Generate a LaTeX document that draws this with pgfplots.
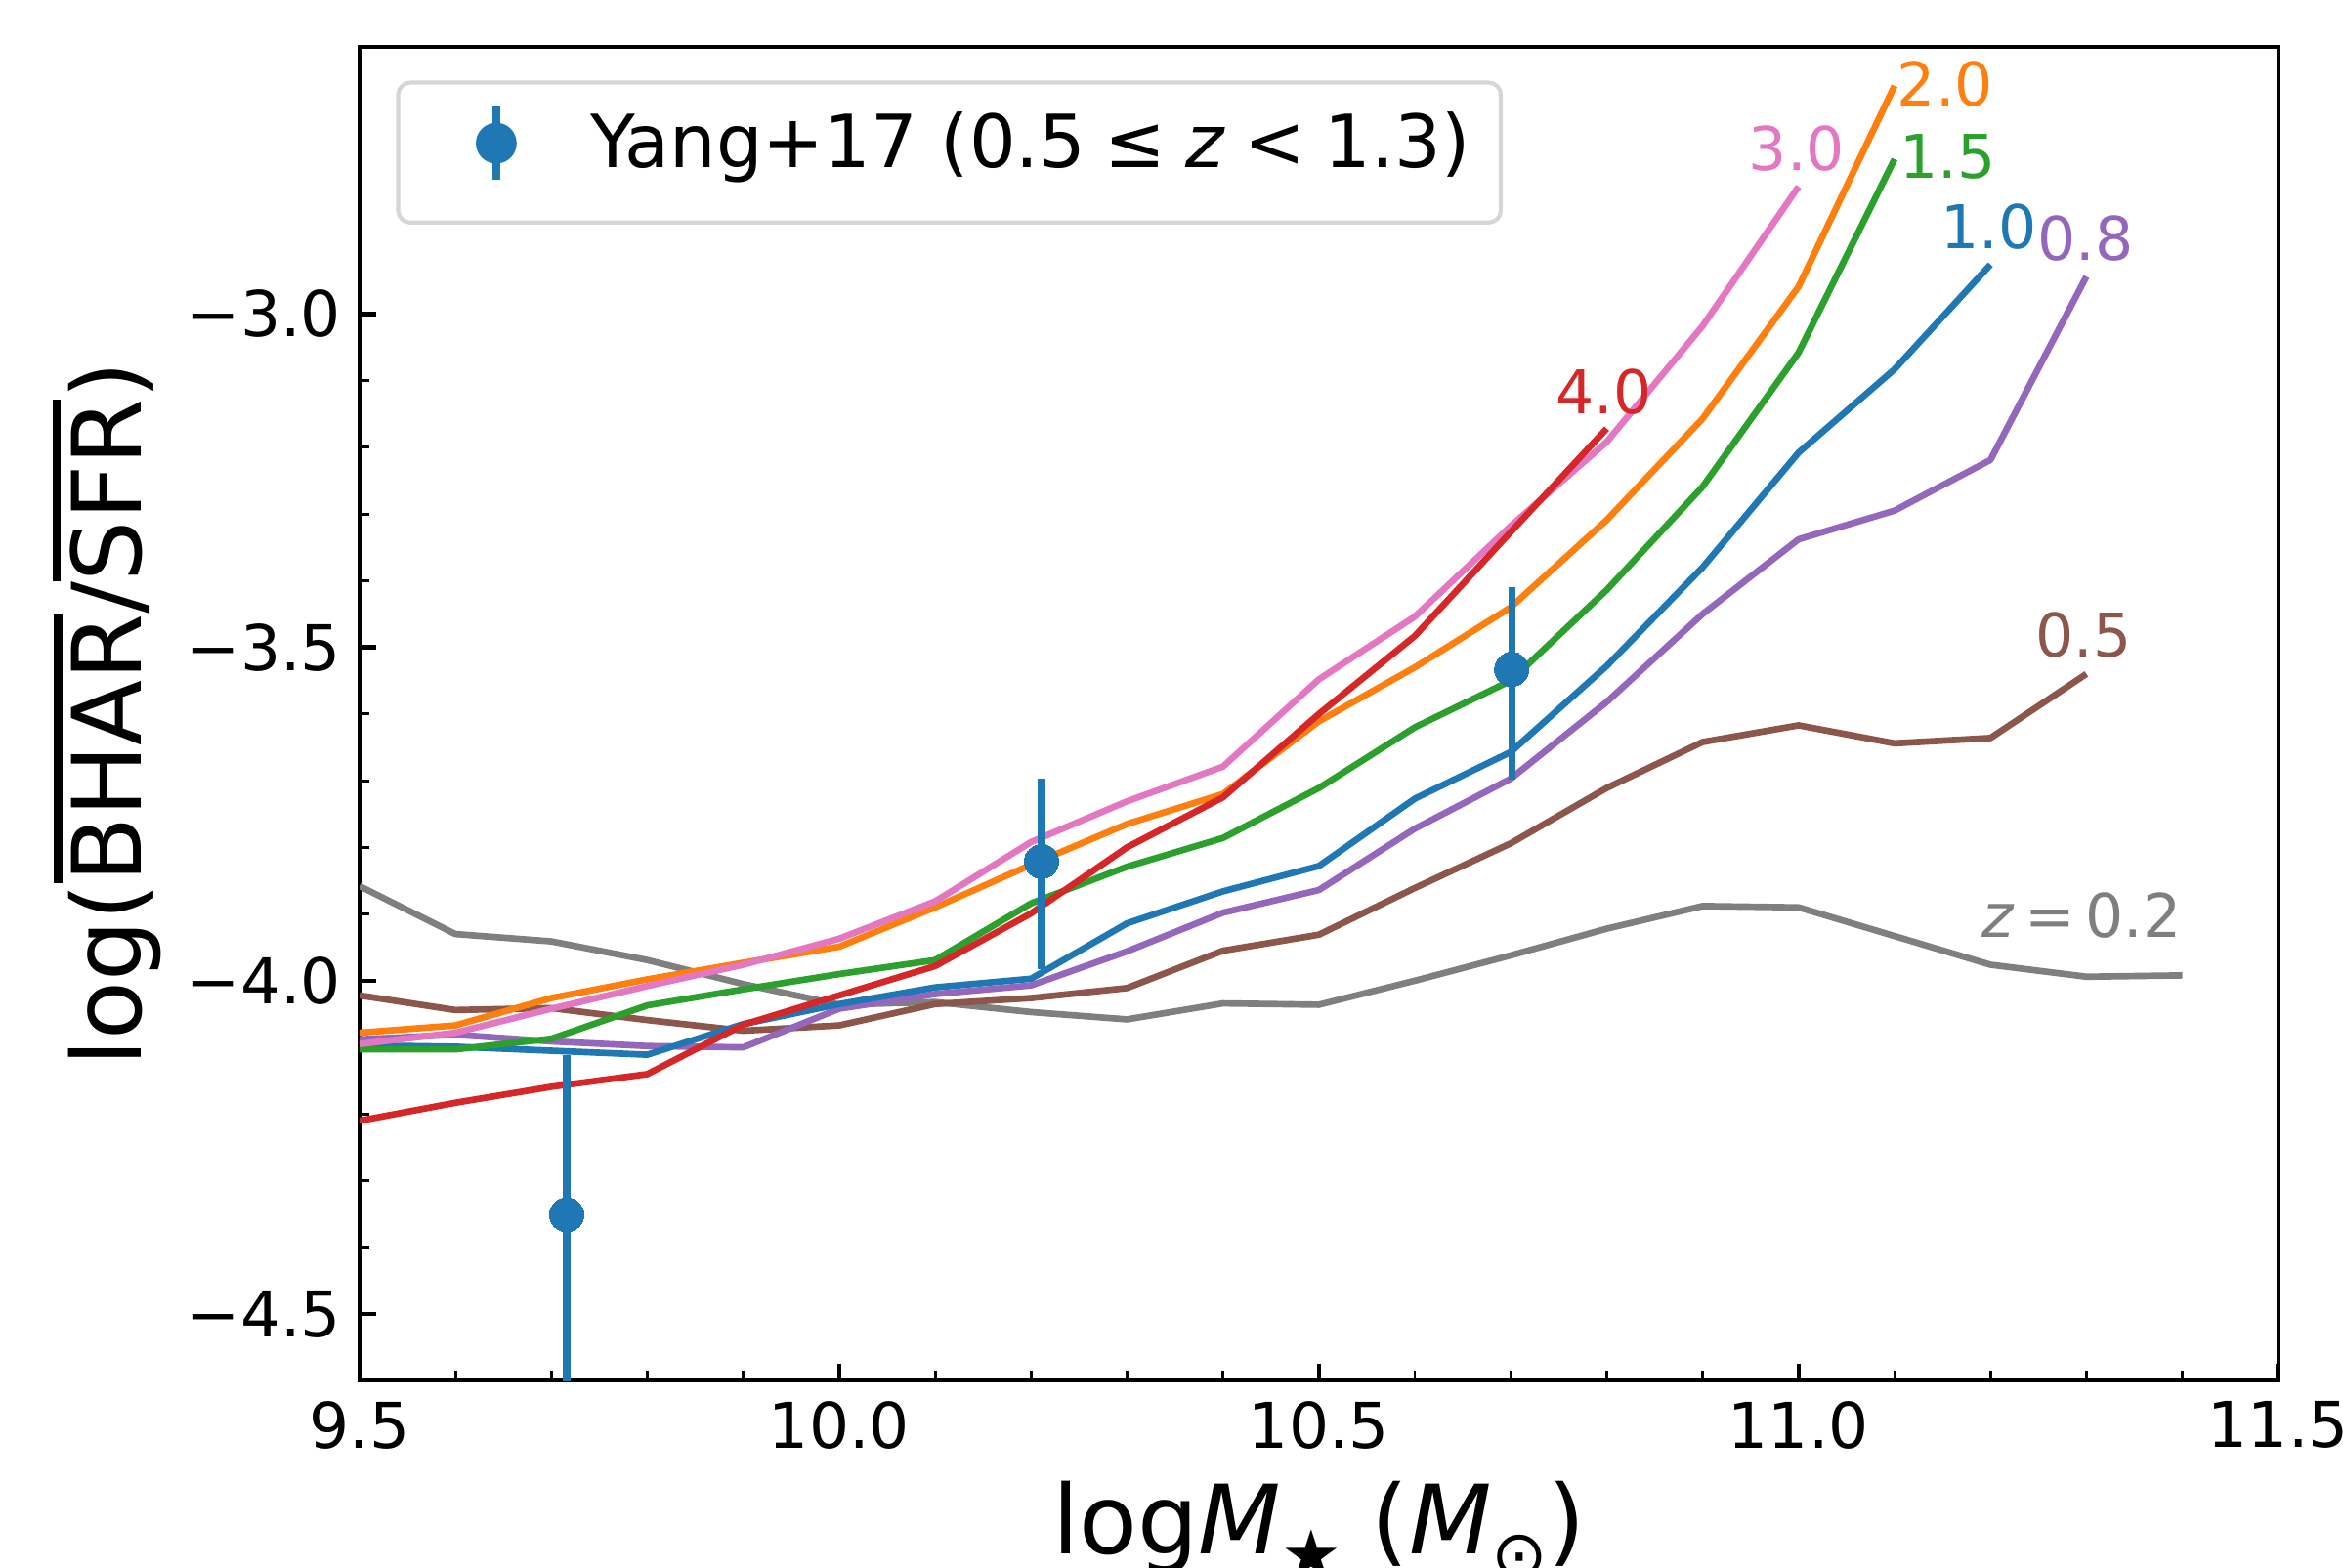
\documentclass[border=0pt]{standalone}
\usepackage{pgfplots}
\pgfplotsset{compat=1.18}
\usepackage{pgfplotstable}
\usepackage{fontspec}
\setmainfont{DejaVu Sans}

\definecolor{tabblue}{HTML}{1F77B4}
\definecolor{taborange}{HTML}{FF7F0E}
\definecolor{tabgreen}{HTML}{2CA02C}
\definecolor{tabred}{HTML}{D62728}
\definecolor{tabpurple}{HTML}{9467BD}
\definecolor{tabbrown}{HTML}{8C564B}
\definecolor{tabpink}{HTML}{E377C2}
\definecolor{tabgray}{HTML}{7F7F7F}
\definecolor{legframe}{RGB}{214,214,214}

\newcommand\ticfont{\fontsize{15.5}{18}\selectfont}
\newcommand\labfont{\fontsize{23.5}{28}\selectfont}
\newcommand\annfont{\fontsize{14.8}{17}\selectfont}
% overline for the y label
\newcommand\ovl[1]{\setbox0\hbox{#1}\rlap{\rule[\dimexpr\ht0+2.4pt\relax]{\wd0}{2pt}}\box0}
\newcommand\sub[1]{\raisebox{-0.25em}{\fontsize{16.5}{18}\selectfont #1}}

% log(BHAR/SFR) per redshift, nan where the curve stops
\pgfplotstableread{
x    z02    z05    z08    z10    z15    z20    z30    z40
9.5  -3.858 -4.022 -4.088 -4.097 -4.103 -4.078 -4.095 -4.210
9.6  -3.930 -4.044 -4.081 -4.099 -4.103 -4.067 -4.078 -4.183
9.7  -3.941 -4.041 -4.091 -4.105 -4.087 -4.026 -4.042 -4.159
9.8  -3.969 -4.059 -4.098 -4.111 -4.037 -3.998 -4.008 -4.140
9.9  -4.005 -4.075 -4.100 -4.065 -4.013 -3.973 -3.976 -4.066
10.0 -4.036 -4.067 -4.042 -4.035 -3.990 -3.949 -3.937 -4.022
10.1 -4.032 -4.035 -4.020 -4.010 -3.969 -3.890 -3.881 -3.978
10.2 -4.047 -4.026 -4.007 -3.997 -3.884 -3.826 -3.792 -3.899
10.3 -4.058 -4.011 -3.956 -3.914 -3.829 -3.765 -3.731 -3.800
10.4 -4.034 -3.955 -3.898 -3.866 -3.786 -3.720 -3.679 -3.725
10.5 -4.036 -3.931 -3.864 -3.828 -3.711 -3.611 -3.548 -3.600
10.6 -4.000 -3.861 -3.772 -3.727 -3.620 -3.530 -3.454 -3.483
10.7 -3.962 -3.794 -3.697 -3.657 -3.550 -3.440 -3.318 -3.327
10.8 -3.922 -3.711 -3.582 -3.528 -3.414 -3.309 -3.192 -3.172
10.9 -3.888 -3.642 -3.450 -3.380 -3.259 -3.157 -3.018 nan
11.0 -3.890 -3.617 -3.338 -3.208 -3.058 -2.959 -2.809 nan
11.1 -3.933 -3.644 -3.295 -3.083 -2.768 -2.658 nan    nan
11.2 -3.976 -3.636 -3.219 -2.926 nan    nan    nan    nan
11.3 -3.994 -3.540 -2.944 nan    nan    nan    nan    nan
11.4 -3.992 nan    nan    nan    nan    nan    nan    nan
}\bhartable

\begin{document}
\begin{tikzpicture}
\useasboundingbox (-88.3pt,-45.8pt) rectangle (487.2pt,339.2pt);
\begin{axis}[
    at={(0pt,0pt)}, anchor=south west,
    scale only axis,
    width=471.3pt, height=327.6pt,
    xmin=9.5, xmax=11.5,
    ymin=-4.6, ymax=-2.6,
    xtick={9.5,10,10.5,11,11.5},
    xticklabels={9.5,10.0,10.5,11.0,11.5},
    ytick={-4.5,-4,-3.5,-3},
    yticklabels={−4.5,−4.0,−3.5,−3.0},
    minor x tick num=4,
    minor y tick num=4,
    tick align=inside,
    tick pos=left,
    major tick length=4.2pt,
    minor tick length=2.4pt,
    every major tick/.append style={line width=1.1pt, black},
    every minor tick/.append style={line width=0.7pt, black},
    axis line style={line width=1pt},
    xticklabel style={font=\ticfont, inner sep=0pt, yshift=-4.8pt},
    yticklabel style={font=\ticfont, inner sep=0pt, xshift=-4.4pt},
    xlabel={log\textit{M}\sub{★}\ (\textit{M}\sub{⊙})},
    ylabel={log(\ovl{BHAR}/\ovl{SFR})},
    xlabel style={font=\labfont, at={(axis description cs:0.5,0)}, anchor=north, inner sep=0pt, yshift=-24.5pt},
    ylabel style={font=\labfont, at={(axis description cs:0,0.5)}, anchor=center, inner sep=0pt, yshift=62pt},
    legend style={at={(axis description cs:0,1)}, anchor=north west,
        xshift=9pt, yshift=-8.2pt, draw=legframe, line width=1pt,
        rounded corners=3pt, fill=white, font=\fontsize{18}{21}\selectfont,
        inner xsep=0pt, inner ysep=4.9pt},
    legend cell align=left,
    every axis plot/.append style={line width=1.6pt, line join=round},
]
\addplot[tabgray, no markers, forget plot] table[x=x, y=z02] {\bhartable};
\addplot[tabbrown, no markers, forget plot] table[x=x, y=z05] {\bhartable};
\addplot[tabpurple, no markers, forget plot] table[x=x, y=z08] {\bhartable};
\addplot[tabblue, no markers, forget plot] table[x=x, y=z10] {\bhartable};
\addplot[tabgreen, no markers, forget plot] table[x=x, y=z15] {\bhartable};
\addplot[taborange, no markers, forget plot] table[x=x, y=z20] {\bhartable};
\addplot[tabpink, no markers, forget plot] table[x=x, y=z30] {\bhartable};
\addplot[tabred, no markers, forget plot] table[x=x, y=z40] {\bhartable};

% Yang+17
\addplot[tabblue, only marks, mark=*, mark size=4.2pt,
    mark options={fill=tabblue, draw=tabblue, line width=0pt},
    error bars/.cd, y dir=both, y explicit, error mark=none,
    error bar style={line width=1.76pt, tabblue},
    /pgfplots/legend image code/.code={
        \path[draw=none, fill=none] (0pt,-14.6pt) -- (45.2pt,0pt);
        \draw[tabblue, line width=1.76pt] (24.1pt,-9.1pt) -- (24.1pt,9.1pt);
        \fill[tabblue] (24.1pt,0pt) circle (4.2pt);
    }]
    coordinates {
    (9.716,-4.351) += (0,0.239) -= (0,0.40)
    (10.211,-3.821) += (0,0.124) -= (0,0.162)
    (10.701,-3.533) += (0,0.123) -= (0,0.165)
    };
\addlegendentry{Yang+17 (0.5\hspace{0.26em}≤\hspace{0.26em}\textit{z}\hspace{0.26em}<\hspace{0.26em}1.3)\hspace*{5.6pt}}

\node[anchor=west, inner sep=0pt, font=\annfont, text=taborange] at (axis cs:11.102,-2.655) {2.0};
\node[anchor=west, inner sep=0pt, font=\annfont, text=tabgreen] at (axis cs:11.105,-2.764) {1.5};
\node[anchor=south, inner sep=0pt, font=\annfont, text=tabpink] at (axis cs:10.998,-2.787) {3.0};
\node[anchor=south, inner sep=0pt, font=\annfont, text=tabblue] at (axis cs:11.198,-2.905) {1.0};
\node[anchor=south, inner sep=0pt, font=\annfont, text=tabpurple] at (axis cs:11.299,-2.922) {0.8};
\node[anchor=south, inner sep=0pt, font=\annfont, text=tabred] at (axis cs:10.797,-3.152) {4.0};
\node[anchor=south, inner sep=0pt, font=\annfont, text=tabbrown] at (axis cs:11.297,-3.517) {0.5};
\node[anchor=south, inner sep=0pt, font=\annfont, text=tabgray] at (axis cs:11.295,-3.937) {\textit{z}\,=\,0.2};
\end{axis}
\end{tikzpicture}
\end{document}
